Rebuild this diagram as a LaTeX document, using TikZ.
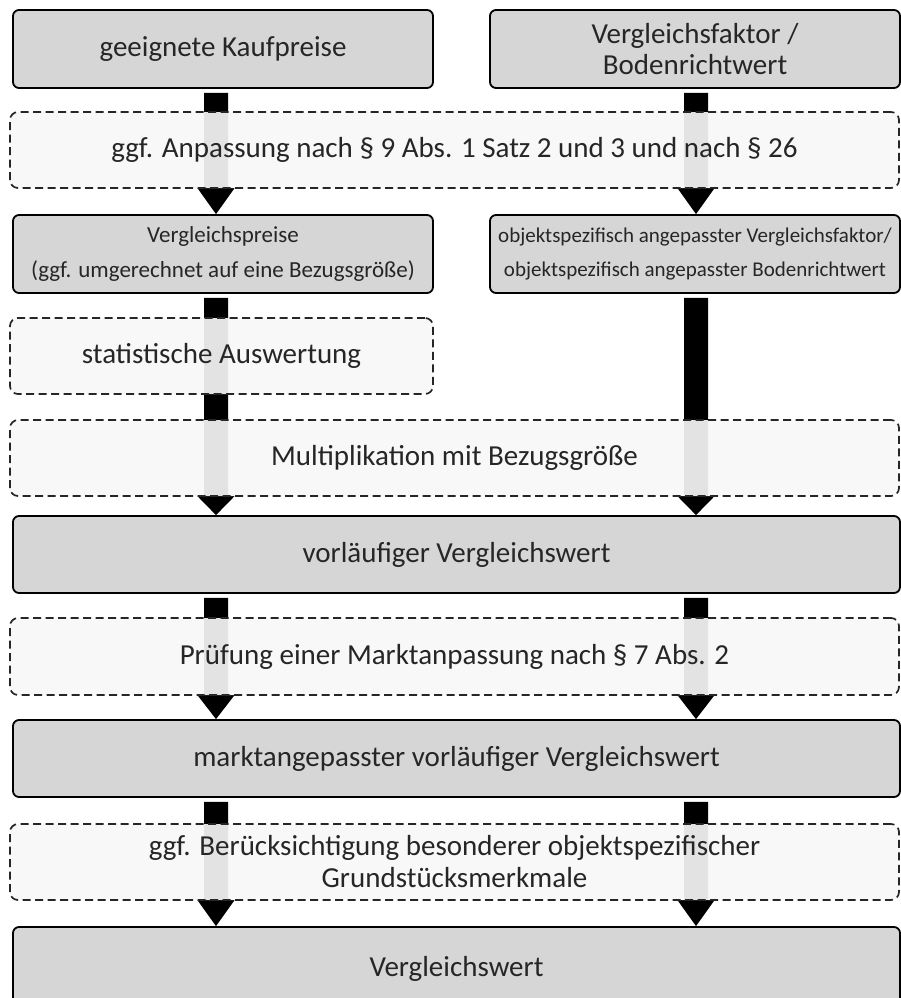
\documentclass[tikz,border=0pt]{standalone}
\usepackage{fontspec}
\setmainfont{Carlito}
\usetikzlibrary{calc}
\tikzset{
  solidbox/.style={draw=black, line width=1.8pt, fill=black!16, rounded corners=6pt,
    inner sep=0pt, text=black!85, align=center, font=\fontsize{29}{31}\selectfont},
  dashbox/.style={draw=black!85, line width=1.7pt, dash pattern=on 8pt off 4.5pt,
    fill=black!3, fill opacity=0.92, text opacity=1, rounded corners=8pt,
    inner sep=0pt, text=black!85, align=center, font=\fontsize{29}{32}\selectfont},
  arrowfill/.style={fill=black}
}
\newcommand{\flowarrow}[4]{%
  \fill[arrowfill] ($(#1.south -| #4)+(-12,4)$) -- ($(#2.south -| #4)+(-12,0)$)
    -- ($(#2.south -| #4)+(-18.5,0)$) -- (#3.north -| #4)
    -- ($(#2.south -| #4)+(18.5,0)$) -- ($(#2.south -| #4)+(12,0)$)
    -- ($(#1.south -| #4)+(12,4)$) -- cycle;}
\begin{document}
\begin{tikzpicture}[x=1pt,y=-1pt]
\useasboundingbox (0,0) rectangle (901,998);
\clip (0,0) rectangle (901,998);
\coordinate (L) at (216,0);
\coordinate (R) at (696,0);
% solid boxes
\node[solidbox, minimum width=420pt, minimum height=78pt] (k1) at (223,49) {geeignete Kaufpreise};
\node[solidbox, minimum width=410pt, minimum height=78pt] (k2) at (695,49) {Vergleichsfaktor /\\Bodenrichtwert};
\node[solidbox, minimum width=420pt, minimum height=78pt, font=\fontsize{23}{35}\selectfont] (vp) at (223,254) {Vergleichspreise\\(ggf. umgerechnet auf eine Bezugsgröße)};
\node[solidbox, minimum width=410pt, minimum height=78pt, font=\fontsize{21}{34}\selectfont] (ob) at (695,254) {objektspezifisch angepasster Vergleichsfaktor/\\objektspezifisch angepasster Bodenrichtwert};
\node[solidbox, minimum width=887pt, minimum height=77pt] (vo) at (456.5,554.5) {vorläufiger Vergleichswert};
\node[solidbox, minimum width=887pt, minimum height=77pt] (ma) at (456.5,758.5) {marktangepasster vorläufiger Vergleichswert};
\node[solidbox, minimum width=887pt, minimum height=83pt] (ve) at (456.5,968.5) {Vergleichswert};
% dashed box frames (used as arrow anchors)
\path (454.5,150) node[minimum width=889pt, minimum height=76pt, inner sep=0pt] (d1) {};
\path (454.5,458) node[minimum width=889pt, minimum height=76pt, inner sep=0pt] (mu) {};
\path (454.5,656.5) node[minimum width=889pt, minimum height=77pt, inner sep=0pt] (pr) {};
\path (454.5,862) node[minimum width=889pt, minimum height=76pt, inner sep=0pt] (be) {};
% arrows
\flowarrow{k1}{d1}{vp}{L}
\flowarrow{k2}{d1}{ob}{R}
\flowarrow{vp}{mu}{vo}{L}
\flowarrow{ob}{mu}{vo}{R}
\flowarrow{vo}{pr}{ma}{L}
\flowarrow{vo}{pr}{ma}{R}
\flowarrow{ma}{be}{ve}{L}
\flowarrow{ma}{be}{ve}{R}
% dashed boxes drawn over arrows
\node[dashbox, minimum width=889pt, minimum height=76pt] (d1t) at (d1) {ggf. Anpassung nach § 9 Abs. 1 Satz 2 und 3 und nach § 26};
\node[dashbox, minimum width=423pt, minimum height=76pt] (st) at (221.5,356) {statistische Auswertung};
\node[dashbox, minimum width=889pt, minimum height=76pt] (mut) at (mu) {Multiplikation mit Bezugsgröße};
\node[dashbox, minimum width=889pt, minimum height=77pt] (prt) at (pr) {Prüfung einer Marktanpassung nach § 7 Abs. 2};
\node[dashbox, minimum width=889pt, minimum height=76pt] (bet) at (be) {ggf. Berücksichtigung besonderer objektspezifischer\\Grundstücksmerkmale};
\end{tikzpicture}
\end{document}
